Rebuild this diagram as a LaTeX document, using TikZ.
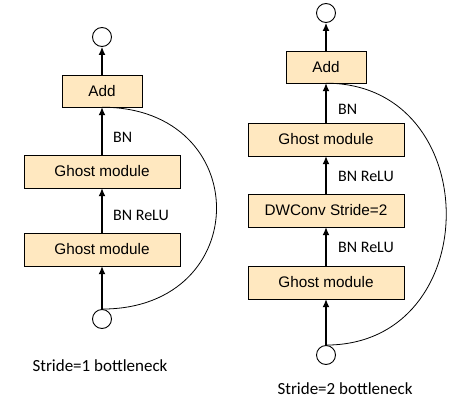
\documentclass[tikz,border=0pt]{standalone}
\usepackage{fontspec}
\setmainfont{Liberation Sans}
\newfontfamily\calibri{Carlito}
\usetikzlibrary{arrows.meta}
\definecolor{boxfill}{RGB}{255,232,192}

\begin{document}
\begin{tikzpicture}[x=1pt,y=-1pt,
  block/.style={rectangle,draw,fill=boxfill,minimum width=156pt,minimum height=33pt,inner sep=0pt,font=\fontsize{15.3}{18}\selectfont},
  addblock/.style={block,minimum width=80pt,minimum height=32pt},
  port/.style={circle,draw,line width=0.9pt,minimum size=19pt,inner sep=0pt},
  lbl/.style={anchor=west,inner sep=0pt,font=\calibri\fontsize{16}{19}\selectfont},
  flow/.style={-{Latex[length=8pt,width=7pt]},line width=1.2pt},
  skip/.style={line width=0.8pt},
  caption/.style={font=\calibri\fontsize{17}{20}\selectfont}]
  \useasboundingbox (0,0) rectangle (454,404);

  % stride 1
  \node[port] (out1) at (102,37) {};
  \node[addblock] (add1) at (102,91) {Add};
  \node[block] (gmA1) at (102,171.5) {Ghost module};
  \node[block] (gmB1) at (102,249.5) {Ghost module};
  \node[port] (in1) at (102,319) {};
  \foreach \a/\b in {in1/gmB1,gmB1/gmA1,gmA1/add1,add1/out1}
    \draw[flow] (\a) -- (\b);
  \node[lbl] (bnA1) at (113,137) {BN};
  \node[lbl] (bnB1) at (113,215) {BN ReLU};
  \draw[skip] (in1.north) to[out=0,in=0,looseness=1.94] (add1.south);
  \node[caption] (cap1) at (100,366) {Stride=1 bottleneck};

  % stride 2
  \node[port] (out2) at (326,13) {};
  \node[addblock] (add2) at (326,67) {Add};
  \node[block] (gmA2) at (326,139.5) {Ghost module};
  \node[block] (dw2) at (326,210.5) {DWConv Stride=2};
  \node[block] (gmB2) at (326,282.5) {Ghost module};
  \node[port] (in2) at (326,355) {};
  \foreach \a/\b in {in2/gmB2,gmB2/dw2,dw2/gmA2,gmA2/add2,add2/out2}
    \draw[flow] (\a) -- (\b);
  \node[lbl] (bnA2) at (338,109) {BN};
  \node[lbl] (bnB2) at (338,176) {BN ReLU};
  \node[lbl] (bnC2) at (338,247) {BN ReLU};
  \draw[skip] (in2.north) to[out=0,in=0,looseness=1.57] (add2.south);
  \node[caption] (cap2) at (345,389) {Stride=2 bottleneck};
\end{tikzpicture}
\end{document}
